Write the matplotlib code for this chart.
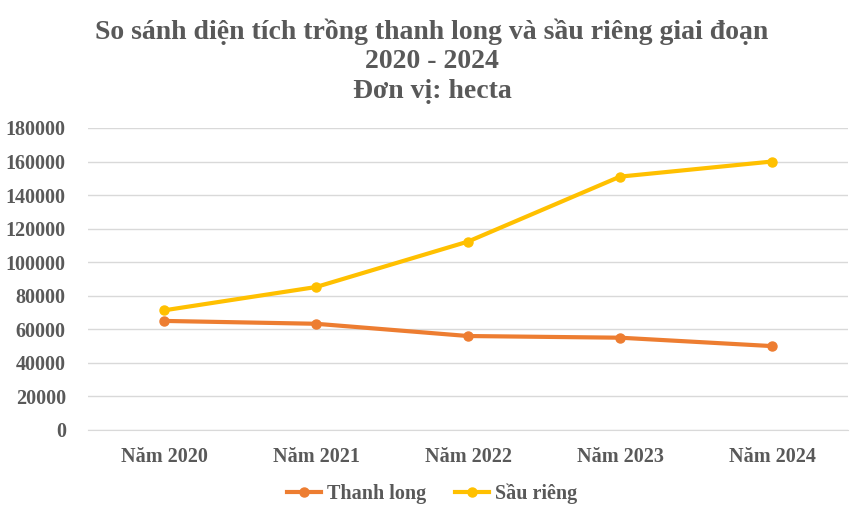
import matplotlib
matplotlib.use("Agg")
import matplotlib.pyplot as plt
from matplotlib.lines import Line2D
import numpy as np

years = ["Năm 2020", "Năm 2021", "Năm 2022", "Năm 2023", "Năm 2024"]
thanh_long = [65000, 63300, 56000, 55000, 50000]
sau_rieng = [71300, 85200, 112300, 151000, 160000]
yticks = [0, 20000, 40000, 60000, 80000, 100000, 120000, 140000, 160000, 180000]

TEXT = "#595959"
GRID = "#d9d9d9"
ORANGE = "#ED7D31"
YELLOW = "#FFC000"

plt.rcParams["font.family"] = ["Liberation Serif", "DejaVu Serif"]
plt.rcParams["font.weight"] = "bold"

fig = plt.figure(figsize=(8.64, 5.16), dpi=100)
ax = fig.add_axes([0.1019, 0.1667, 0.8796, 0.5853])

x = np.arange(len(years))
ax.plot(x, thanh_long, color=ORANGE, lw=3, marker="o", markersize=6.5,
        solid_capstyle="round", solid_joinstyle="round", zorder=3)
ax.plot(x, sau_rieng, color=YELLOW, lw=3, marker="o", markersize=6.5,
        solid_capstyle="round", solid_joinstyle="round", zorder=3)

ax.set_xlim(-0.5, len(years) - 0.5)
ax.set_ylim(0, 180000)
ax.set_yticks(yticks)
ax.set_yticklabels([str(v) for v in yticks])
ax.set_xticks(x)
ax.set_xticklabels(years)
ax.grid(axis="y", color=GRID, lw=1)
ax.set_axisbelow(True)
for s in ["top", "right", "left"]:
    ax.spines[s].set_visible(False)
ax.spines["bottom"].set_color(GRID)
ax.tick_params(axis="both", length=0, labelsize=14.5, labelcolor=TEXT)
ax.tick_params(axis="x", pad=12)
ax.tick_params(axis="y", pad=16)

fig.text(0.5, 0.965, "So sánh diện tích trồng thanh long và sầu riêng giai đoạn\n2020 - 2024\nĐơn vị: hecta",
         ha="center", va="top", fontsize=20, color=TEXT, fontweight="bold",
         linespacing=1.25)

handles = [Line2D([], [], color=ORANGE, lw=3, marker="o", markersize=6.5),
           Line2D([], [], color=YELLOW, lw=3, marker="o", markersize=6.5)]
fig.legend(handles, ["Thanh long", "Sầu riêng"], loc="center",
           bbox_to_anchor=(0.5, 0.043), ncol=2, frameon=False,
           fontsize=14.5, labelcolor=TEXT, handlelength=1.7,
           handletextpad=0.3, columnspacing=1.4)

fig.savefig("out.png", dpi=100, facecolor="white")
